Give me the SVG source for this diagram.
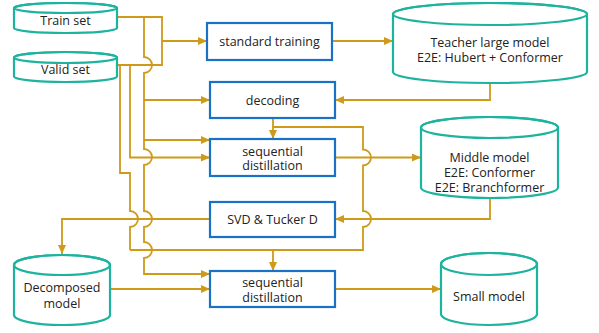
<svg xmlns="http://www.w3.org/2000/svg" width="599" height="333" viewBox="0 0 599 333">
<defs>
<marker id="ah" markerUnits="userSpaceOnUse" markerWidth="9" markerHeight="8" refX="9" refY="4" orient="auto">
<path d="M0,0 L9,4 L0,8 Z" fill="#CF9A1A"/>
</marker>
<style>
.box{fill:#fff;stroke:#1A72C6;stroke-width:2.2}
.cyl{fill:#fff;stroke:#1DB39E;stroke-width:2.2}
.cap{fill:none;stroke:#1DB39E;stroke-width:2.2}
.c{fill:none;stroke:#CF9A1A;stroke-width:1.8}
.a{marker-end:url(#ah)}
text{font-family:"Open Sans","Noto Sans","Liberation Sans",sans-serif;font-size:12.5px;fill:#222;text-anchor:middle}
</style>
</defs>
<rect width="599" height="333" fill="#fff"/>

<g id="connectors">
<path class="c" d="M117,17 H162 V65 H117"/>
<path class="c a" d="M162,41 H207"/>
<path class="c a" d="M144,17 V57 A8,8 0 0 1 144,73 V149 A8,8 0 0 1 144,165 V211 A8,8 0 0 1 144,227 V242 A8,8 0 0 1 144,258 V274 H210"/>
<path class="c a" d="M144,100 H210"/>
<path class="c a" d="M144,140 H210"/>
<path class="c a" d="M130,65 V157.5 H210"/>
<path class="c" d="M120,65 V173 H130 V211 A8,8 0 0 1 130,227 V250"/>
<path class="c a" d="M273,118 V139"/>
<path class="c" d="M273,127 H363 V149.5 A8,8 0 0 1 363,165.5 V211 A8,8 0 0 1 363,227 V250 H130"/>
<path class="c a" d="M273,250 V271"/>
<path class="c a" d="M332,41 H393"/>
<path class="c a" d="M490,84 V100 H335"/>
<path class="c a" d="M335,157.5 H421"/>
<path class="c a" d="M490,198 V219 H335"/>
<path class="c a" d="M210,219 H62 V254"/>
<path class="c a" d="M110,289 H210"/>
<path class="c a" d="M335,289 H441"/>
</g>

<g id="train-set">
<path class="cyl" d="M14,8 A51.5,5 0 0 1 117,8 V28 A51.5,5 0 0 1 14,28 Z"/>
<ellipse class="cap" cx="65.5" cy="8" rx="51.5" ry="5"/>
<text x="65.5" y="24.5">Train set</text>
</g>

<g id="valid-set">
<path class="cyl" d="M14,57.5 A51.5,5.5 0 0 1 117,57.5 V76.5 A51.5,5.5 0 0 1 14,76.5 Z"/>
<ellipse class="cap" cx="65.5" cy="57.5" rx="51.5" ry="5.5"/>
<text x="65.5" y="73.5">Valid set</text>
</g>

<g id="teacher">
<path class="cyl" d="M393,14 A97,11 0 0 1 587,14 V72 A97,11 0 0 1 393,72 Z"/>
<ellipse class="cap" cx="490" cy="14" rx="97" ry="11"/>
<text x="490" y="46.5">Teacher large model</text>
<text x="490" y="61.5">E2E: Hubert + Conformer</text>
</g>

<g id="standard-training">
<rect class="box" x="207" y="23" width="125" height="37"/>
<text x="269.5" y="46">standard training</text>
</g>

<g id="decoding">
<rect class="box" x="210" y="82" width="125" height="36"/>
<text x="272.5" y="104.5">decoding</text>
</g>

<g id="seq-distillation-1">
<rect class="box" x="210" y="139" width="125" height="37"/>
<text x="272.5" y="155.5">sequential</text>
<text x="272.5" y="170">distillation</text>
</g>

<g id="middle">
<path class="cyl" d="M421,127.5 A68.5,10.5 0 0 1 558,127.5 V187.5 A68.5,10.5 0 0 1 421,187.5 Z"/>
<ellipse class="cap" cx="489.5" cy="127.5" rx="68.5" ry="10.5"/>
<text x="489.5" y="162">Middle model</text>
<text x="489.5" y="177">E2E: Conformer</text>
<text x="489.5" y="192">E2E: Branchformer</text>
</g>

<g id="svd-tucker">
<rect class="box" x="210" y="202" width="125" height="35"/>
<text x="272.5" y="223.5">SVD &amp; Tucker D</text>
</g>

<g id="decomposed">
<path class="cyl" d="M14,265 A48,10 0 0 1 110,265 V315 A48,10 0 0 1 14,315 Z"/>
<ellipse class="cap" cx="62" cy="265" rx="48" ry="10"/>
<text x="62" y="291.5">Decomposed</text>
<text x="62" y="307.5">model</text>
</g>

<g id="seq-distillation-2">
<rect class="box" x="210" y="271" width="125" height="36"/>
<text x="272.5" y="286.5">sequential</text>
<text x="272.5" y="301.5">distillation</text>
</g>

<g id="small">
<path class="cyl" d="M441,264 A48,11 0 0 1 537,264 V314 A48,11 0 0 1 441,314 Z"/>
<ellipse class="cap" cx="489" cy="264" rx="48" ry="11"/>
<text x="489" y="300.5">Small model</text>
</g>
</svg>
